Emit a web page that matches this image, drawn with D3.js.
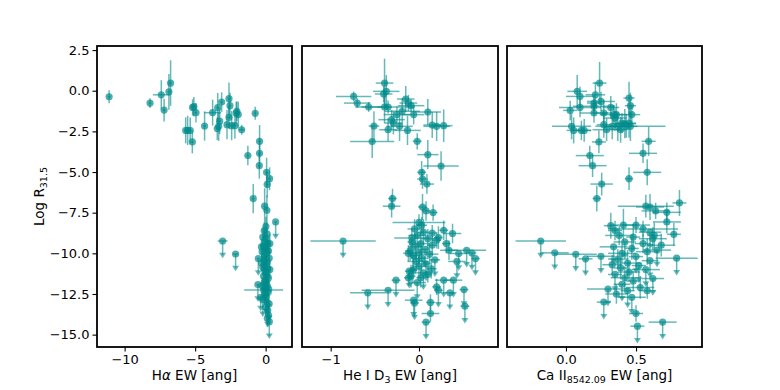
<!DOCTYPE html>
<html><head><meta charset="utf-8">
<script src="https://cdn.jsdelivr.net/npm/d3@7"></script>
<style>body{margin:0;background:#fff} svg{display:block} text{font-family:"DejaVu Sans",sans-serif;fill:#000}</style>
</head><body><svg id="c" width="780" height="390"></svg>
<script>
// [x, y, xerr, yerr, upperLimit]
const haPoints = [
[-11.1,-0.37,0.1,0.4,0],[-8.2,-0.76,0.1,0.3,0],[-7.4,-0.25,0.6,0.9,0],[-7.2,-1.19,0.1,0.7,0],
[-6.86,-0.07,0.1,1.1,0],[-6.74,0.47,0.1,1.4,0],[-5.67,-2.44,0.1,0.8,0],[-5.53,-2.44,0.1,0.9,0],
[-5.35,-2.44,0.1,0.8,0],[-5.2,-3.15,0.1,0.7,0],[-5.18,-1.03,0.1,0.5,0],[-5.09,-0.98,0.1,0.6,0],
[-4.94,-1.35,0.1,0.6,0],[-4.33,-2.17,0.1,0.9,0],[-3.76,-1.35,0.6,0.8,0],[-3.4,-1.04,0.1,0.9,0],
[-3.26,-1.87,0.1,0.8,0],[-3.33,-2.19,0.1,0.9,0],[-3.43,-2.33,0.1,0.7,0],[-3.12,-0.7,0.1,0.6,0],
[-2.74,-2.09,0.1,0.9,0],[-2.6,-0.49,0.1,1.0,0],[-2.53,-0.92,0.1,0.8,0],[-2.6,-1.64,0.1,0.7,0],
[-2.41,-2.15,0.1,0.9,0],[-2.18,-2.15,0.1,0.8,0],[-2.09,-1.38,0.1,0.7,0],[-1.94,-1.47,0.1,0.8,0],
[-2.04,-1.27,0.1,0.6,0],[-1.7,-2.4,0.2,0.3,0],[-0.74,-1.39,0.1,0.4,0],[-1.26,-3.99,0.1,0.6,0],
[-0.43,-3.11,0.1,1.0,0],[-0.43,-3.85,0.1,0.9,0],[-0.45,-4.61,0.1,0.8,0],[0.07,-5.02,0.1,0.9,0],
[0.28,-5.41,0.1,0.7,0],[0.11,-5.76,0.1,0.8,0],[-0.88,-6.63,0.1,0.9,0],[-0.07,-7.1,0.1,1.1,0],
[0.09,-7.35,0.1,0.9,0],[0.71,-8.07,0.1,1,1],[-3.05,-9.24,0.35,1,1],[-2.13,-10.04,0.2,1,1],
[-0.52,-10.32,0.1,1,1],[-0.55,-11.92,0.1,1,1],[-0.14,-12.25,1.38,0.3,0],[0.26,-14.2,0.1,1,1],
[0.2,-13.8,0.1,0.5,0],[-0.35,-12.7,0.05,0.8,1],
[0.02,-8.35,0.05,0.6,0],[-0.1,-8.6,0.05,0.5,0],[0.1,-8.8,0.05,0.7,0],[-0.2,-9.0,0.05,0.5,0],
[0.05,-9.1,0.05,0.8,1],[-0.05,-9.3,0.05,0.6,0],[0.15,-9.4,0.05,0.5,0],[-0.15,-9.55,0.05,0.7,0],
[0.0,-9.7,0.05,1,1],[0.2,-9.85,0.05,0.6,0],[-0.25,-9.9,0.05,0.5,0],[0.08,-10.0,0.05,0.7,0],
[-0.08,-10.15,0.05,1,1],[0.25,-10.3,0.05,0.6,0],[-0.12,-10.4,0.05,0.8,0],[0.1,-10.55,0.05,1,1],
[0.0,-10.7,0.05,0.6,0],[-0.2,-10.85,0.05,0.5,0],[0.15,-10.95,0.05,1,1],[-0.05,-11.1,0.05,0.7,0],
[0.05,-11.25,0.05,0.6,0],[-0.15,-11.4,0.05,1,1],[0.2,-11.5,0.05,0.5,0],[0.0,-11.65,0.05,0.8,0],
[-0.1,-11.8,0.05,1,1],[0.12,-12.0,0.05,0.6,0],[-0.02,-12.1,0.05,0.7,0],[0.18,-12.4,0.05,1,1],
[-0.08,-12.55,0.05,0.6,0],[0.05,-12.7,0.05,1,1],[-0.2,-12.85,0.05,1,1],[0.1,-13.0,0.05,0.6,0],
[0.25,-13.1,0.05,1,1],[0.0,-13.3,0.05,0.5,0],[0.15,-13.5,0.05,1,1],[0.12,-14.0,0.05,0.5,0],
[-0.3,-9.6,0.05,0.5,0],[0.3,-9.4,0.05,0.6,0],[0.3,-11.0,0.05,0.6,0],[-0.28,-10.6,0.05,0.5,0],
[0.22,-12.2,0.05,0.5,0],[-0.25,-12.0,0.05,0.5,0]
];
const hePoints = [
[-0.74,-0.35,0.2,0.3,0],[-0.70,-0.76,0.15,0.3,0],[-0.57,-1.0,0.15,0.3,0],[-0.51,-2.17,0.06,0.9,0],
[-0.53,-3.13,0.25,1.0,0],[-0.39,0.47,0.1,1.5,0],[-0.37,-0.04,0.15,1.0,0],[-0.40,-0.2,0.1,0.5,0],
[-0.39,-1.0,0.08,1.0,0],[-0.35,-1.0,0.3,0.4,0],[-0.15,-0.51,0.1,0.8,0],[-0.12,-0.76,0.1,0.5,0],
[-0.09,-0.92,0.15,0.4,0],[-0.19,-1.27,0.2,0.8,0],[-0.25,-1.47,0.15,0.5,0],[-0.31,-1.78,0.15,0.6,0],
[-0.29,-1.99,0.1,0.7,0],[-0.22,-2.19,0.15,0.9,0],[-0.35,-2.4,0.1,0.7,0],[-0.13,-2.44,0.15,0.9,0],
[-0.06,-1.47,0.12,0.6,0],[0.10,-1.31,0.15,0.8,0],[0.15,-2.11,0.1,0.8,0],[0.20,-2.19,0.15,0.9,0],
[0.28,-2.15,0.1,1.0,0],[-0.02,-3.11,0.05,0.5,0],[0.10,-3.93,0.12,0.9,0],[0.25,-4.63,0.2,0.9,0],
[0.03,-5.02,0.05,0.7,0],[0.04,-5.43,0.06,0.6,0],[0.09,-5.74,0.08,0.6,0],[-0.30,-6.63,0.05,0.6,0],
[-0.31,-7.1,0.1,0.7,0],[0.04,-7.15,0.05,0.8,0],[0.08,-7.39,0.05,0.6,0],[0.16,-7.49,0.05,0.5,0],
[0.0,-8.1,0.3,0.5,0],[0.03,-8.27,0.06,0.5,0],[-0.86,-9.24,0.37,1,1],[-0.58,-12.43,0.2,1,1],
[-0.35,-12.27,0.3,1,1],[-0.26,-11.65,0.05,1,1],[0.51,-12.23,0.05,1,1],[0.52,-13.25,0.05,1,1],
[0.08,-14.23,0.05,1,1],[0.13,-13.02,0.05,0.5,0],[0.13,-13.70,0.1,0.5,0],[-0.05,-13.05,0.05,1,1],
[0.35,-12.43,0.05,1,1],[0.39,-11.65,0.1,1,1],[0.54,-9.81,0.22,1,1],[0.60,-9.98,0.05,1,1],
[0.64,-10.32,0.05,1,1],[0.45,-10.01,0.1,1,1],[0.43,-10.50,0.1,1,1],[0.28,-8.58,0.05,0.6,0],
[0.38,-8.78,0.1,0.6,0],[0.31,-9.4,0.05,0.6,0],[0.34,-9.81,0.1,0.6,0],[0.22,-9.03,0.05,0.7,0],
[0.15,-8.75,0.05,0.5,0],[-0.08,-9.05,0.2,0.6,0],[-0.11,-11.1,0.05,1,1],[-0.09,-11.4,0.05,0.7,0],
[-0.12,-11.5,0.05,0.5,0],[0.28,-11.65,0.1,1,1],[0.2,-12.06,0.05,0.5,0],[0.22,-12.27,0.05,1,1],
[-0.06,-12.88,0.1,1,1],
[-0.05,-8.5,0.08,0.6,0],[0.05,-8.7,0.06,0.8,0],[-0.02,-8.9,0.1,0.7,0],[0.1,-9.1,0.08,0.6,0],
[-0.08,-9.3,0.05,1,1],[0.02,-9.4,0.1,0.7,0],[0.15,-9.5,0.06,0.6,0],[-0.04,-9.6,0.08,0.8,0],
[0.07,-9.75,0.05,1,1],[-0.1,-9.85,0.06,0.6,0],[0.0,-9.95,0.1,0.7,0],[0.12,-10.05,0.1,0.6,0],
[-0.06,-10.15,0.05,1,1],[0.03,-10.3,0.08,0.8,0],[0.18,-10.4,0.06,1,1],[-0.03,-10.5,0.1,0.6,0],
[0.08,-10.65,0.05,1,1],[0.0,-10.8,0.08,0.7,0],[0.14,-10.95,0.06,0.6,0],[-0.07,-11.05,0.05,0.8,0],
[0.05,-11.2,0.1,1,1],[0.02,-11.5,0.05,0.6,0],[-0.02,-11.8,0.1,1,1],[0.1,-11.3,0.05,0.5,0],
[-0.12,-10.0,0.06,0.5,0],[0.2,-9.2,0.05,0.5,0]
];
const caPoints = [
[0.08,-0.04,0.07,1.0,0],[0.10,-0.35,0.1,0.6,0],[0.03,-1.21,0.05,0.6,0],[0.10,-1.03,0.15,0.6,0],
[0.04,-2.19,0.14,0.8,0],[0.055,-2.44,0.05,0.8,0],[0.11,-2.44,0.07,0.6,0],[0.13,-2.44,0.05,0.7,0],
[0.24,0.47,0.05,1.3,0],[0.21,-0.25,0.07,0.8,0],[0.25,-0.66,0.1,0.6,0],[0.20,-0.76,0.05,0.5,0],
[0.20,-0.96,0.15,0.5,0],[0.20,-1.37,0.1,0.6,0],[0.27,-1.37,0.06,0.8,0],[0.32,-1.03,0.06,0.7,0],
[0.34,-1.47,0.1,0.6,0],[0.27,-2.09,0.05,0.8,0],[0.29,-2.4,0.1,0.7,0],[0.33,-2.19,0.06,0.8,0],
[0.37,-2.19,0.1,0.9,0],[0.39,-2.4,0.05,0.8,0],[0.40,-1.99,0.05,0.6,0],[0.42,-2.03,0.08,0.9,0],
[0.36,-1.47,0.05,0.7,0],[0.35,-1.68,0.08,0.6,0],[0.45,-0.45,0.04,1.0,0],[0.46,-0.92,0.04,0.8,0],
[0.47,-1.47,0.06,0.6,0],[0.45,-1.99,0.05,0.9,0],[0.46,-2.19,0.25,0.9,0],[0.43,-2.19,0.08,0.7,0],
[0.235,-3.15,0.05,0.7,0],[0.59,-3.11,0.05,0.9,0],[0.55,-3.85,0.1,0.6,0],[0.58,-5.02,0.1,0.8,0],
[0.17,-3.99,0.1,0.6,0],[0.19,-4.61,0.1,0.7,0],[0.45,-5.41,0.03,0.7,0],[0.255,-5.74,0.08,0.7,0],
[0.22,-6.63,0.03,0.8,0],[0.57,-7.1,0.2,0.7,0],[0.60,-7.15,0.1,0.8,0],[0.64,-7.39,0.1,0.5,0],
[0.72,-7.48,0.1,0.6,0],[0.81,-6.9,0.05,0.8,0],[-0.18,-9.24,0.18,1,1],[-0.08,-9.97,0.1,1,1],
[0.07,-10.06,0.15,1,1],[0.14,-10.34,0.05,1,1],[0.25,-10.18,0.1,1,1],[0.79,-10.3,0.15,1,1],
[0.27,-13.0,0.05,1,1],[0.69,-14.23,0.1,1,1],[0.50,-13.7,0.05,0.5,0],[0.51,-14.48,0.05,1,1],
[0.32,-8.3,0.05,0.8,0],[0.41,-8.26,0.1,1.0,0],[0.50,-8.26,0.1,0.5,0],[0.72,-8.07,0.1,0.7,0],
[0.77,-8.83,0.05,0.7,0],
[0.35,-8.6,0.05,0.6,0],[0.55,-8.5,0.25,0.5,0],[0.60,-8.7,0.08,1,1],[0.38,-8.9,0.1,0.6,0],
[0.48,-9.0,0.05,0.8,0],[0.62,-9.1,0.1,0.7,0],[0.42,-9.3,0.08,1,1],[0.55,-9.4,0.06,0.6,0],
[0.34,-9.6,0.1,1,1],[0.47,-9.7,0.05,0.7,0],[0.65,-9.8,0.1,1,1],[0.58,-9.9,0.08,0.8,0],
[0.40,-10.0,0.1,0.6,0],[0.50,-10.2,0.05,1,1],[0.37,-10.35,0.07,0.6,0],[0.60,-10.45,0.06,1,1],
[0.44,-10.6,0.1,0.8,0],[0.52,-10.75,0.05,1,1],[0.39,-10.9,0.05,0.7,0],[0.57,-11.0,0.1,1,1],
[0.45,-11.15,0.08,0.6,0],[0.35,-11.3,0.05,1,1],[0.42,-11.5,0.1,0.7,0],[0.62,-11.55,0.08,1,1],
[0.48,-11.7,0.05,0.6,0],[0.40,-11.9,0.06,1,1],[0.53,-12.1,0.1,0.7,0],[0.44,-12.3,0.05,1,1],
[0.36,-12.5,0.08,0.6,0],[0.47,-12.7,0.1,1,1],[0.58,-12.3,0.06,0.5,0],[0.30,-12.2,0.15,1,1],
[0.63,-8.9,0.05,0.8,0],[0.68,-9.5,0.1,0.7,0],[0.33,-10.7,0.07,0.6,0]
];
const yTicks = [2.5, 0, -2.5, -5, -7.5, -10, -12.5, -15];
const haTicks = [-10, -5, 0];
const heTicks = [-1, 0];
const caTicks = [0, 0.5];
const yDomain = [-15.76, 2.75];
const haDomain = [-11.96, 1.87];
const heDomain = [-1.325, 0.895];
const caDomain = [-0.421, 0.971];

(function () {
const svg = d3.select("#c");
const plotTop = 46, plotBottom = 347;
const color = "#008b8b";
const y = d3.scaleLinear().domain(yDomain).range([plotBottom, plotTop]);

const panels = [
  {pts: haPoints, dom: haDomain, ticks: haTicks, fmt: d3.format("d"), x0: 97, x1: 292, yAxis: true},
  {pts: hePoints, dom: heDomain, ticks: heTicks, fmt: d3.format("d"), x0: 302, x1: 498},
  {pts: caPoints, dom: caDomain, ticks: caTicks, fmt: d3.format(".1f"), x0: 507, x1: 702}
];

panels.forEach(p => {
  const x = d3.scaleLinear().domain(p.dom).range([p.x0, p.x1]);
  const g = svg.append("g");
  const bars = g.append("g").attr("stroke", color).attr("stroke-opacity", 0.6).attr("stroke-width", 1.5).attr("fill", "none");
  p.pts.forEach(d => {
    const [vx, vy, xe, ye, up] = d;
    bars.append("line").attr("x1", x(vx - xe)).attr("x2", x(vx + xe)).attr("y1", y(vy)).attr("y2", y(vy));
    if (up) {
      bars.append("line").attr("x1", x(vx)).attr("x2", x(vx)).attr("y1", y(vy)).attr("y2", y(vy - ye) - 2);
    } else {
      bars.append("line").attr("x1", x(vx)).attr("x2", x(vx)).attr("y1", y(vy + ye)).attr("y2", y(vy - ye));
    }
  });
  const arrows = g.append("g").attr("fill", color).attr("fill-opacity", 0.6);
  p.pts.filter(d => d[4]).forEach(d => {
    const cx = x(d[0]), ty = y(d[1] - d[3]);
    arrows.append("path").attr("d", `M${cx-3.5},${ty-4.5}L${cx+3.5},${ty-4.5}L${cx},${ty+1}Z`);
  });
  g.append("g").selectAll("circle").data(p.pts).join("circle")
    .attr("cx", d => x(d[0])).attr("cy", d => y(d[1])).attr("r", 3.6)
    .attr("fill", color).attr("fill-opacity", 0.7);

  svg.append("rect").attr("x", p.x0).attr("y", plotTop).attr("width", p.x1 - p.x0).attr("height", plotBottom - plotTop)
    .attr("fill", "none").attr("stroke", "#000").attr("stroke-width", 1.8);

  const xa = svg.append("g").attr("transform", `translate(0,${plotBottom})`)
    .call(d3.axisBottom(x).tickValues(p.ticks).tickFormat(p.fmt).tickSize(4.5).tickPadding(3));
  xa.select(".domain").remove();
  xa.selectAll("line").attr("stroke-width", 1.1);
  xa.selectAll("text").attr("font-size", 13).attr("font-family", "DejaVu Sans");

  if (p.yAxis) {
    const ya = svg.append("g").attr("transform", `translate(${p.x0},0)`)
      .call(d3.axisLeft(y).tickValues(yTicks).tickFormat(d3.format(".1f")).tickSize(4.5).tickPadding(3));
    ya.select(".domain").remove();
    ya.selectAll("line").attr("stroke-width", 1.1);
    ya.selectAll("text").attr("font-size", 13).attr("font-family", "DejaVu Sans");
  }
  p.cx = (p.x0 + p.x1) / 2;
});

const lab1 = svg.append("text").attr("x", panels[0].cx).attr("y", 380).attr("text-anchor", "middle").attr("font-size", 13.5);
lab1.append("tspan").text("H");
lab1.append("tspan").attr("font-style", "italic").text("α");
lab1.append("tspan").text(" EW [ang]");

const lab2 = svg.append("text").attr("x", panels[1].cx).attr("y", 380).attr("text-anchor", "middle").attr("font-size", 13.5);
lab2.append("tspan").text("He I D");
lab2.append("tspan").attr("font-size", 9.5).attr("dy", 2.5).text("3");
lab2.append("tspan").attr("dy", -2.5).text(" EW [ang]");

const lab3 = svg.append("text").attr("x", panels[2].cx).attr("y", 380).attr("text-anchor", "middle").attr("font-size", 13.5);
lab3.append("tspan").text("Ca II");
lab3.append("tspan").attr("font-size", 9.5).attr("dy", 2.5).text("8542.09");
lab3.append("tspan").attr("dy", -2.5).text(" EW [ang]");

const yl = svg.append("text").attr("transform", `translate(44,${(plotTop + plotBottom) / 2}) rotate(-90)`)
  .attr("text-anchor", "middle").attr("font-size", 13.5);
yl.append("tspan").text("Log R");
yl.append("tspan").attr("font-size", 9.5).attr("dy", 2.5).text("31.5");
})();
</script></body></html>
